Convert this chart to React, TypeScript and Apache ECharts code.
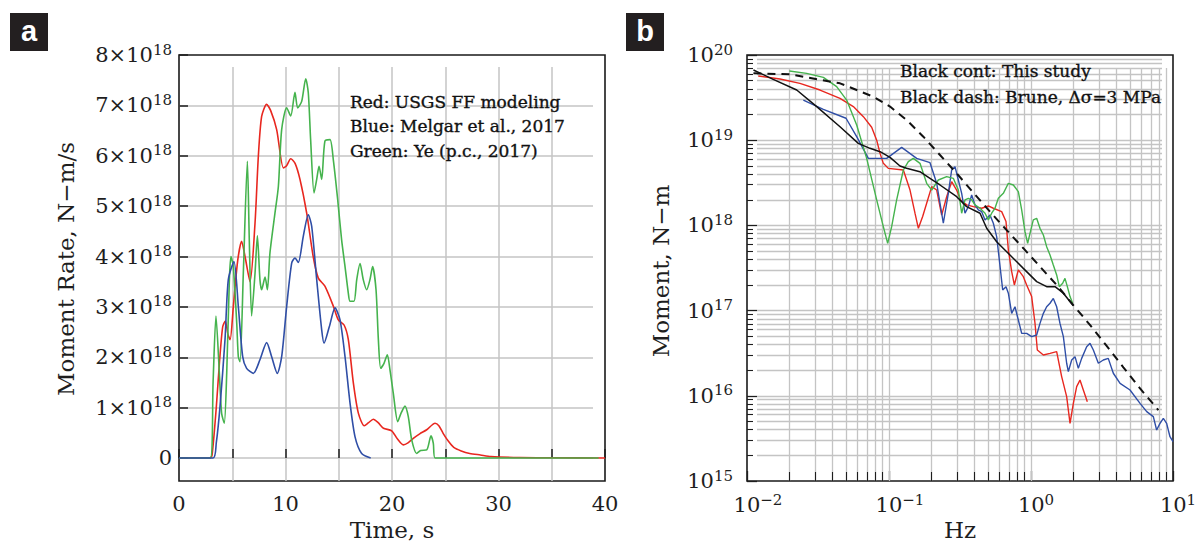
import React, { useEffect, useRef } from "react";
import * as echarts from "echarts";

const FONT = '"DejaVu Serif", serif';
const RED = "#e8271f";
const BLUE = "#2f4ea6";
const GREEN = "#45b34d";
const GRID_GRAY = "#c4c4c4";
const INK = "#1e1e1e";

// ---------- Panel a : moment rate functions (time s, rate in 1e18 N-m/s) ----------
const RED_USGS: [number, number][] = [
  [0, 0], [2.9, 0], [3.1, 0.05], [3.5, 1.0], [3.8, 1.9], [4.1, 2.6], [4.35, 2.72], [4.6, 2.45], [4.8, 2.35],
  [5.1, 3.0], [5.5, 3.9], [5.88, 4.3], [6.2, 4.0], [6.67, 3.5], [7.14, 4.67], [7.45, 5.99], [7.76, 6.78],
  [8.23, 7.02], [8.6, 6.9], [9.17, 6.52], [9.8, 5.76], [10.1, 5.8], [10.49, 5.94], [10.9, 5.85], [11.36, 5.53],
  [11.99, 4.86], [12.6, 4.0], [13.08, 3.57], [13.7, 3.41], [14.5, 3.01], [14.96, 2.74], [15.5, 2.64],
  [15.9, 2.35], [16.37, 1.49], [16.84, 0.89], [17.4, 0.64], [17.8, 0.7], [18.24, 0.77], [18.7, 0.7],
  [19.2, 0.59], [19.97, 0.54], [20.5, 0.38], [21.06, 0.26], [21.5, 0.3], [22.0, 0.39], [22.6, 0.48],
  [23.26, 0.56], [24.04, 0.69], [24.4, 0.64], [24.8, 0.49], [25.3, 0.33], [25.8, 0.21], [26.5, 0.14],
  [27.3, 0.09], [28.3, 0.06], [29.3, 0.03], [32, 0.01], [35, 0.005], [40, 0],
];
const BLUE_MELGAR: [number, number][] = [
  [0, 0], [3.2, 0], [3.5, 0.3], [3.85, 1.02], [4.32, 2.35], [4.63, 3.54], [5.16, 3.9], [5.57, 3.01],
  [5.98, 2.01], [6.35, 1.78], [6.98, 1.68], [7.6, 1.95], [8.23, 2.29], [8.7, 2.01], [9.23, 1.68],
  [9.64, 2.01], [10.11, 3.01], [10.58, 3.87], [10.89, 3.97], [11.2, 3.88], [11.67, 4.4], [12.14, 4.83],
  [12.46, 4.6], [12.93, 3.54], [13.4, 2.54], [13.62, 2.28], [14.12, 2.61], [14.65, 2.98], [15.12, 2.74],
  [15.59, 2.01], [16.06, 1.09], [16.53, 0.42], [17.15, 0.09], [18.0, 0],
];
const GREEN_YE: [number, number][] = [
  [0, 0], [2.95, 0], [3.2, 1.5], [3.47, 2.82], [3.79, 1.68], [4.0, 0.89], [4.25, 0.69], [4.48, 1.68],
  [4.73, 3.54], [4.88, 4.0], [5.1, 3.8], [5.42, 2.68], [5.57, 2.01], [5.73, 1.91], [6.04, 3.67],
  [6.42, 5.89], [6.6, 4.33], [6.82, 2.82], [7.14, 3.67], [7.36, 4.41], [7.6, 3.54], [7.76, 3.34],
  [8.08, 3.59], [8.3, 3.34], [8.54, 4.07], [9.01, 4.86], [9.33, 5.39], [9.64, 6.52], [10.11, 6.95],
  [10.49, 6.79], [10.89, 7.26], [11.14, 6.95], [11.52, 7.08], [11.9, 7.53], [12.14, 7.25], [12.36, 6.32],
  [12.68, 5.26], [12.93, 5.53], [13.15, 5.79], [13.4, 5.53], [13.7, 6.29], [14.18, 6.32], [14.49, 5.92],
  [14.9, 5.13], [15.27, 4.33], [15.59, 3.8], [15.9, 3.27], [16.06, 3.11], [16.43, 3.11], [16.69, 3.54],
  [17.0, 3.86], [17.3, 3.54], [17.62, 3.34], [17.93, 3.54], [18.18, 3.8], [18.5, 3.34], [18.72, 2.35],
  [18.94, 1.78], [19.25, 1.88], [19.56, 2.05], [19.81, 1.75], [20.12, 1.29], [20.54, 0.72], [20.85, 0.89],
  [21.22, 1.03], [21.53, 0.82], [21.85, 0.36], [22.32, 0.09], [22.69, 0.15], [23.26, 0.16], [23.66, 0.44],
  [23.88, 0.29], [24.04, 0], [39.4, 0],
];
const TIME_LABELS = [0, 10, 20, 30, 40];

// ---------- Panel b : moment spectra (Hz, N-m) ----------
const RED_SPEC: [number, number][] = [
  [0.012, 5.67e19], [0.01707, 5.23e19], [0.0236, 4.65e19], [0.03266, 3.88e19], [0.04518, 3.1e19],
  [0.0561, 2.48e19], [0.066, 1.89e19], [0.0755, 1.42e19], [0.0819, 1.0e19], [0.0865, 7.0e18],
  [0.0912, 5.35e18], [0.0989, 4.67e18], [0.1262, 4.47e18], [0.1406, 2.6e18], [0.1524, 1.39e18],
  [0.161, 9.24e17], [0.1726, 1.27e18], [0.1842, 1.82e18], [0.1998, 2.85e18], [0.2167, 2.6e18],
  [0.2349, 1.32e18], [0.2548, 2.17e18], [0.2762, 3.26e18], [0.2995, 2.6e18], [0.3197, 1.99e18],
  [0.3523, 1.74e18], [0.3926, 1.66e18], [0.4495, 1.59e18], [0.5006, 1.69e18], [0.5429, 1.59e18],
  [0.6215, 1.45e18], [0.6668, 1.11e18], [0.6927, 5.14e17], [0.7311, 2.86e17], [0.7634, 2.0e17],
  [0.8143, 3.0e17], [0.8831, 2.5e17], [0.932, 2.0e17], [1.011, 1.46e17], [1.067, 7.1e16],
  [1.108, 3.45e16], [1.222, 3.01e16], [1.361, 3.15e16], [1.516, 3.3e16], [1.644, 1.68e16],
  [1.783, 9.77e15], [1.883, 4.75e15], [1.987, 8.16e15], [2.097, 1.28e16], [2.213, 1.53e16],
  [2.336, 1.17e16], [2.493, 8.53e15],
];
const BLUE_SPEC: [number, number][] = [
  [0.02493, 2.96e19], [0.03449, 2.3e19], [0.04981, 1.81e19], [0.05921, 1.1e19], [0.07153, 6.12e18],
  [0.0963, 6.12e18], [0.1228, 8.25e18], [0.1566, 6.12e18], [0.1944, 5.45e18], [0.2167, 3.12e18],
  [0.2413, 1.06e18], [0.2617, 2.38e18], [0.2762, 4.47e18], [0.2916, 4.89e18], [0.3078, 3.41e18],
  [0.3249, 2.38e18], [0.3429, 1.39e18], [0.362, 1.66e18], [0.3821, 2.27e18], [0.4033, 1.74e18],
  [0.4257, 1.52e18], [0.4495, 1.45e18], [0.4745, 1.16e18], [0.5145, 1.32e18], [0.5429, 1.06e18],
  [0.5731, 7.38e17], [0.5984, 3.93e17], [0.6318, 1.75e17], [0.6668, 1.91e17], [0.6927, 1.6e17],
  [0.7311, 9.29e16], [0.7712, 1.11e17], [0.8143, 7.76e16], [0.8597, 5.41e16], [0.932, 5.41e16],
  [1.011, 4.94e16], [1.096, 5.17e16], [1.157, 7.08e16], [1.222, 9.29e16], [1.289, 1.11e17],
  [1.361, 1.22e17], [1.436, 1.39e17], [1.516, 1.11e17], [1.6, 7.08e16], [1.69, 4.94e16],
  [1.783, 2.41e16], [1.832, 1.92e16], [1.934, 2.63e16], [2.042, 2.88e16], [2.154, 2.1e16],
  [2.274, 2.75e16], [2.466, 3.77e16], [2.603, 4.13e16], [2.748, 3.45e16], [2.98, 2.41e16],
  [3.23, 2.63e16], [3.5, 2.75e16], [3.8, 1.84e16], [4.24, 1.4e16], [4.98, 1.17e16], [5.86, 8.16e15],
  [6.53, 6.51e15], [7.27, 5.69e15], [7.67, 3.97e15], [8.1, 4.75e15], [8.55, 5.44e15], [9.02, 4.75e15],
  [9.52, 3.31e15], [10.0, 2.9e15],
];
const GREEN_SPEC: [number, number][] = [
  [0.01987, 6.49e19], [0.02632, 6.09e19], [0.03449, 5.47e19], [0.04279, 4.25e19], [0.05034, 2.96e19],
  [0.05921, 1.51e19], [0.06963, 6.12e18], [0.0819, 1.99e18], [0.0912, 9.66e17], [0.0979, 6.16e17],
  [0.1044, 9.66e17], [0.1132, 1.99e18], [0.1262, 4.47e18], [0.1368, 5.6e18], [0.1483, 6.12e18],
  [0.1653, 5.35e18], [0.1842, 3.12e18], [0.1998, 2.6e18], [0.2225, 3.41e18], [0.2548, 3.73e18],
  [0.2838, 3.57e18], [0.3078, 2.6e18], [0.3249, 1.39e18], [0.3429, 1.99e18], [0.362, 2.08e18],
  [0.3821, 1.99e18], [0.4033, 1.74e18], [0.4375, 1.59e18], [0.4745, 1.39e18], [0.5006, 1.16e18],
  [0.5284, 1.39e18], [0.5577, 1.59e18], [0.5888, 2.08e18], [0.6385, 2.38e18], [0.6927, 3.12e18],
  [0.7509, 2.98e18], [0.8143, 2.49e18], [0.8597, 1.52e18], [0.9072, 8.44e17], [0.9473, 6.16e17],
  [0.984, 8.07e17], [1.038, 1.16e18], [1.096, 1.21e18], [1.157, 9.24e17], [1.222, 7.71e17],
  [1.289, 5.63e17], [1.361, 4.5e17], [1.436, 3.43e17], [1.516, 2.62e17], [1.583, 1.91e17],
  [1.671, 2.09e17], [1.735, 2.39e17], [1.803, 1.91e17], [1.883, 1.46e17], [1.965, 1.22e17],
];
const BLACK_STUDY: [number, number][] = [
  [0.0111, 6.67e19], [0.0153, 5.18e19], [0.02239, 3.88e19], [0.03097, 2.48e19], [0.04518, 1.44e19],
  [0.06081, 9.19e18], [0.07345, 8.03e18], [0.0865, 7.33e18], [0.1017, 6.29e18], [0.1195, 4.98e18],
  [0.133, 4.68e18], [0.165, 4.27e18], [0.1944, 3.57e18], [0.2286, 2.98e18], [0.2997, 2.17e18],
  [0.352, 1.66e18], [0.4375, 1.39e18], [0.4875, 9.25e17], [0.573, 6.44e17], [0.711, 4.5e17],
  [0.883, 3.13e17], [1.097, 2.19e17], [1.289, 1.91e17], [1.476, 1.91e17], [1.69, 1.6e17],
  [1.986, 1.14e17],
];
const BRUNE_DASH: [number, number][] = [
  [0.0111, 6.1e19], [0.0201, 5.93e19], [0.0452, 4.65e19], [0.0776, 3.24e19], [0.1017, 2.48e19],
  [0.133, 1.73e19], [0.1745, 1.1e19], [0.2286, 6.7e18], [0.2997, 4.08e18], [0.393, 2.42e18],
  [0.514, 1.45e18], [0.674, 8.8e17], [0.883, 5.4e17], [1.157, 3.28e17], [1.516, 2.0e17],
  [1.986, 1.16e17], [2.6, 6.8e16], [3.41, 3.85e16], [4.47, 2.16e16], [5.86, 1.22e16], [7.89, 6.8e15],
];

const FREQ_DECADES = [-2, -1, 0];
const MOMENT_DECADES = [15, 16, 17, 18, 19];
const MULTIPLIERS = [1, 2, 3, 4, 5, 6, 7, 8, 9];

const decadeValues = (decades: number[], mults: number[]) => {
  const out: number[] = [];
  decades.forEach((k) => mults.forEach((m) => out.push(m * Math.pow(10, k))));
  return out;
};
const H_GRID = decadeValues(MOMENT_DECADES, MULTIPLIERS).filter((v) => v > 1e15);
const V_GRID = decadeValues(FREQ_DECADES, MULTIPLIERS).filter((v) => v > 0.0100001);
const Y_MINOR = decadeValues(MOMENT_DECADES, MULTIPLIERS.slice(1));
const X_MINOR = decadeValues(FREQ_DECADES, MULTIPLIERS.slice(1));

const tickFont = { fontFamily: FONT, fontSize: 21, color: INK };
const supFont = { fontFamily: FONT, fontSize: 15, color: INK, padding: [0, 0, 11, 0], verticalAlign: "middle" };

function markLines(xi: number, yi: number, pt: number[], dir: "x" | "y", vals: number[], color: string, width: number) {
  return {
    type: "line",
    xAxisIndex: xi,
    yAxisIndex: yi,
    data: [pt],
    showSymbol: false,
    silent: true,
    z: 1,
    lineStyle: { width: 0 },
    markLine: {
      z: 1,
      silent: true,
      symbol: ["none", "none"],
      label: { show: false },
      animation: false,
      emphasis: { disabled: true },
      lineStyle: { color, width, type: "solid" },
      data: vals.map((v) => (dir === "y" ? { yAxis: v } : { xAxis: v })),
    },
  };
}

const hiddenValue = (gridIndex: number) => ({ gridIndex, type: "value", min: 0, max: 1, show: false });

const legendText = (x: number, y: number, text: string) => ({
  type: "text",
  x,
  y,
  z: 20,
  style: { text, fill: "#111", stroke: "#111", lineWidth: 0.35, fontSize: 17, fontFamily: FONT, align: "left", verticalAlign: "middle" },
});

const titleText = (x: number, y: number, text: string, rotated: boolean) => ({
  type: "text",
  x,
  y,
  rotation: rotated ? Math.PI / 2 : 0,
  style: { text, fill: INK, fontSize: 23, fontFamily: FONT, align: "center", verticalAlign: "middle" },
});

function buildOption() {
  const gridBase = { outerBoundsMode: "none", containLabel: false };
  return {
    animation: false,
    backgroundColor: "#ffffff",
    textStyle: { fontFamily: FONT },
    grid: [
      { ...gridBase, left: 179, top: 55, width: 426, height: 426, show: true, borderColor: "#1a1a1a", borderWidth: 1.6, backgroundColor: "transparent" },
      { ...gridBase, left: 179, top: 55, width: 414, height: 403 },
      { ...gridBase, left: 179, top: 67, width: 426, height: 414 },
      { ...gridBase, left: 747, top: 55, width: 426, height: 426, show: true, borderColor: "#1a1a1a", borderWidth: 1.6, backgroundColor: "transparent" },
      { ...gridBase, left: 757, top: 55, width: 405, height: 426 },
      { ...gridBase, left: 747, top: 68, width: 426, height: 413 },
      { ...gridBase, left: 747, top: 55, width: 6, height: 426 },
      { ...gridBase, left: 747, top: 472, width: 426, height: 9 },
    ],
    xAxis: [
      {
        gridIndex: 0, type: "value", min: 0, max: 40, interval: 5,
        axisLine: { show: false },
        axisTick: { show: true, inside: true, length: 9, lineStyle: { color: INK, width: 1.5 } },
        axisLabel: { margin: 12, ...tickFont, formatter: (v: number) => (TIME_LABELS.includes(v) ? String(v) : "") },
        splitLine: { show: false },
      },
      hiddenValue(1),
      {
        gridIndex: 2, type: "value", min: 0, max: 40, interval: 5,
        axisLine: { show: false }, axisTick: { show: false }, axisLabel: { show: false },
        splitLine: { show: true, showMinLine: false, showMaxLine: false, lineStyle: { color: GRID_GRAY, width: 1.5 } },
      },
      {
        gridIndex: 3, type: "log", logBase: 10, min: 0.01, max: 10,
        axisLine: { show: false },
        axisTick: { show: true, inside: true, length: 10, lineStyle: { color: INK, width: 1.3 } },
        axisLabel: {
          margin: 11,
          formatter: (v: number) => {
            const e = Math.round(Math.log10(v));
            return e < 0 ? `{bn|10}{s|−${-e}}` : `{bp|10}{s|${e}}`;
          },
          rich: {
            bn: { ...tickFont, padding: [0, 0, 0, 22], verticalAlign: "middle" },
            bp: { ...tickFont, padding: [0, 0, 0, 10], verticalAlign: "middle" },
            s: supFont,
          },
        },
        splitLine: { show: false },
      },
      hiddenValue(4),
      { gridIndex: 5, type: "log", logBase: 10, min: 0.01, max: 10, show: false },
      hiddenValue(6),
      { gridIndex: 7, type: "log", logBase: 10, min: 0.01, max: 10, show: false },
    ],
    yAxis: [
      { gridIndex: 0, type: "value", min: -0.457, max: 8, show: false },
      {
        gridIndex: 1, type: "value", min: 0, max: 8, interval: 1,
        axisLine: { show: false },
        axisTick: { show: true, inside: true, length: 9, lineStyle: { color: INK, width: 1.5 } },
        axisLabel: {
          margin: 7,
          formatter: (v: number) => (v === 0 ? "{b|0}" : `{b|${v}×10}{s|18}`),
          rich: { b: { ...tickFont, verticalAlign: "middle" }, s: supFont },
        },
        splitLine: { show: true, showMaxLine: false, lineStyle: { color: GRID_GRAY, width: 1.5 } },
      },
      hiddenValue(2),
      {
        gridIndex: 3, type: "log", logBase: 10, min: 1e15, max: 1e20,
        axisLine: { show: false },
        axisTick: { show: true, inside: true, length: 10, lineStyle: { color: INK, width: 1.3 } },
        axisLabel: {
          margin: 14,
          formatter: (v: number) => `{b|10}{s|${Math.round(Math.log10(v))}}`,
          rich: { b: { ...tickFont, verticalAlign: "middle" }, s: supFont },
        },
        splitLine: { show: false },
      },
      { gridIndex: 4, type: "log", logBase: 10, min: 1e15, max: 1e20, show: false },
      hiddenValue(5),
      { gridIndex: 6, type: "log", logBase: 10, min: 1e15, max: 1e20, show: false },
      hiddenValue(7),
    ],
    series: [
      // panel b grid lines and minor ticks (drawn first, underneath)
      markLines(4, 4, [0.5, 1e17], "y", H_GRID, GRID_GRAY, 1.3),
      markLines(5, 5, [1, 0.5], "x", V_GRID, GRID_GRAY, 1.3),
      markLines(6, 6, [0.5, 1e17], "y", Y_MINOR, INK, 1.1),
      markLines(7, 7, [1, 0.5], "x", X_MINOR, INK, 1.1),
      // panel a
      { type: "line", name: "USGS", xAxisIndex: 0, yAxisIndex: 0, data: RED_USGS, showSymbol: false, smooth: 0.25, z: 10, lineStyle: { color: RED, width: 1.6 } },
      { type: "line", name: "Ye", xAxisIndex: 0, yAxisIndex: 0, data: GREEN_YE, showSymbol: false, smooth: 0.25, z: 10, lineStyle: { color: GREEN, width: 1.6 } },
      { type: "line", name: "Melgar", xAxisIndex: 0, yAxisIndex: 0, data: BLUE_MELGAR, showSymbol: false, smooth: 0.25, z: 10, lineStyle: { color: BLUE, width: 1.6 } },
      // panel b spectra
      { type: "line", name: "USGS spectrum", xAxisIndex: 3, yAxisIndex: 3, data: RED_SPEC, showSymbol: false, z: 10, lineStyle: { color: RED, width: 1.4 } },
      { type: "line", name: "Melgar spectrum", xAxisIndex: 3, yAxisIndex: 3, data: BLUE_SPEC, showSymbol: false, z: 10, lineStyle: { color: BLUE, width: 1.4 } },
      { type: "line", name: "Ye spectrum", xAxisIndex: 3, yAxisIndex: 3, data: GREEN_SPEC, showSymbol: false, z: 10, lineStyle: { color: GREEN, width: 1.4 } },
      { type: "line", name: "This study", xAxisIndex: 3, yAxisIndex: 3, data: BLACK_STUDY, showSymbol: false, z: 11, lineStyle: { color: "#111", width: 1.5 } },
      { type: "line", name: "Brune", xAxisIndex: 3, yAxisIndex: 3, data: BRUNE_DASH, showSymbol: false, z: 11, lineStyle: { color: "#111", width: 2, type: [8, 6] } },
    ],
    graphic: [
      { type: "rect", shape: { x: 10, y: 13, width: 38, height: 38 }, style: { fill: "#231f20" } },
      { type: "text", x: 29, y: 31, style: { text: "a", fill: "#fff", fontSize: 29, fontWeight: "bold", fontFamily: '"Liberation Sans", Arial, sans-serif', align: "center", verticalAlign: "middle" } },
      { type: "rect", shape: { x: 626, y: 13, width: 38, height: 38 }, style: { fill: "#231f20" } },
      { type: "text", x: 645, y: 31, style: { text: "b", fill: "#fff", fontSize: 29, fontWeight: "bold", fontFamily: '"Liberation Sans", Arial, sans-serif', align: "center", verticalAlign: "middle" } },
      titleText(66, 269, "Moment Rate, N−m/s", true),
      titleText(392, 530, "Time, s", false),
      titleText(661, 271, "Moment, N−m", true),
      titleText(960, 530, "Hz", false),
      legendText(350, 102, "Red: USGS FF modeling"),
      legendText(350, 126, "Blue: Melgar et al., 2017"),
      legendText(350, 151, "Green: Ye (p.c., 2017)"),
      legendText(900, 71, "Black cont: This study"),
      legendText(900, 97, "Black dash: Brune, Δσ=3 MPa"),
    ],
  };
}

export default function App() {
  const ref = useRef<HTMLDivElement>(null);
  useEffect(() => {
    if (!ref.current) return;
    const chart = echarts.init(ref.current, undefined, { renderer: "svg", width: 1199, height: 546 });
    chart.setOption(buildOption() as any);
    return () => chart.dispose();
  }, []);
  return (
    <div
      ref={ref}
      style={{ position: "absolute", left: 0, top: 0, width: 1199, height: 546, background: "#fff" }}
    />
  );
}
